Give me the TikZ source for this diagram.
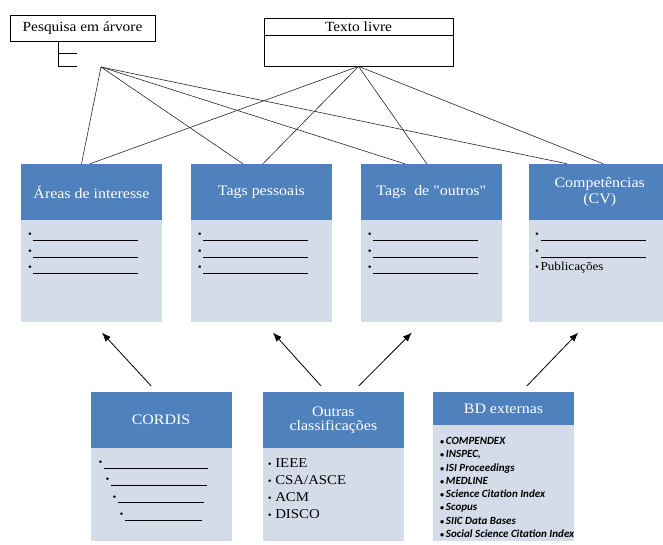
\documentclass[tikz,border=0pt]{standalone}
\usepackage{fontspec}
\setmainfont[FakeStretch=1.1]{Liberation Serif}
\newfontfamily\qfont[FakeStretch=1.1]{Liberation Serif}
\newfontfamily\calfont{Carlito}
\usetikzlibrary{positioning,arrows.meta,calc}

\definecolor{hdblue}{HTML}{4F81BD}
\definecolor{bdblue}{HTML}{D5DCE9}

\newcommand{\hdfont}{\fontsize{14.5}{14}\selectfont}
\newcommand{\ttlfont}{\fontsize{14}{16}\selectfont}
\newcommand{\lstfont}{\fontsize{12}{16.7}\selectfont}
\newcommand{\srcfont}{\fontsize{13.5}{16.8}\selectfont}
\newcommand{\dbfont}{\calfont\bfseries\itshape\fontsize{11}{13.3}\selectfont}
\newcommand{\bl}[1][105pt]{\rule[-3pt]{#1}{0.7pt}}
\newcommand{\bul}{\strut{\fontsize{10}{10}\selectfont\textbullet}\hspace{1.5pt}}
\newcommand{\dbul}{\strut{\fontsize{8}{8}\selectfont\textbullet}\hspace{2pt}}

\begin{document}
\begin{tikzpicture}[
  x=1pt,y=-1pt,
  node distance=28.5pt,
  hd/.style={fill=hdblue,text=white,minimum width=141pt,minimum height=56pt,align=center,inner sep=0pt,font=\hdfont},
  bd/.style={fill=bdblue,minimum width=141pt,inner sep=0pt},
  lst/.style={anchor=north west,align=left,inner sep=0pt},
  ttl/.style={draw,line width=0.8pt,inner sep=0pt,font=\ttlfont},
  ln/.style={draw=black!85,line width=0.6pt},
  ar/.style={-{Latex[length=9pt,width=7pt]},line width=0.8pt}
]
\useasboundingbox (0,0) rectangle (663,545);
\clip (0,0) rectangle (663,545);

% search boxes on top
\node[ttl,minimum width=145pt,minimum height=26pt] (tree) at (82.5,28) {Pesquisa em árvore};
\coordinate (treept) at (101,67);
\node[ttl,minimum width=189pt,minimum height=48pt] (texto) at (358.5,42) {};
\node[inner sep=0pt,minimum height=17pt,font=\ttlfont,anchor=north] (textot) at (texto.north) {Texto livre};
\draw[line width=0.8pt] (texto.west |- textot.south) -- (texto.east |- textot.south);
\draw[line width=0.8pt] ([xshift=49pt]tree.south west) -- ++(0,25) -- ++(18,0);
\draw[line width=0.8pt] ([xshift=49pt]tree.south west) ++(0,12) -- ++(18,0);

% profile boxes
\node[hd] (areas) at (91.5,192) {Áreas de interesse};
\node[hd,right=of areas] (tagsp) {Tags pessoais};
\node[hd,right=of tagsp] (tagso) {Tags\ \ de {\qfont"}outros{\qfont"}};
\node[hd,right=27pt of tagso] (comp) {Competências\\[2pt](CV)};
\node[bd,minimum height=102pt,below=0pt of areas] (areasb) {};
\node[bd,minimum height=102pt,below=0pt of tagsp] (tagspb) {};
\node[bd,minimum height=102pt,below=0pt of tagso] (tagsob) {};
\node[bd,minimum height=102pt,below=0pt of comp] (compb) {};
\node[lst,font=\lstfont] (areasl) at ([shift={(7pt,-5.5pt)}]areasb.north west) {\bul\bl\\\bul\bl\\\bul\bl};
\node[lst,font=\lstfont] (tagspl) at ([shift={(7pt,-5.5pt)}]tagspb.north west) {\bul\bl\\\bul\bl\\\bul\bl};
\node[lst,font=\lstfont] (tagsol) at ([shift={(7pt,-5.5pt)}]tagsob.north west) {\bul\bl\\\bul\bl\\\bul\bl};
\node[lst,font=\lstfont] (compl) at ([shift={(6pt,-5.5pt)}]compb.north west) {\bul\bl\\\bul\bl\\\bul Publicações};

% sources
\node[hd] (cordis) at (161,420) {CORDIS};
\node[hd,right=31pt of cordis] (outras) {Outras\\classificações};
\node[hd,minimum height=33pt] (bd) at (503.5,408.5) {BD externas};
\node[bd,minimum height=93pt,below=0pt of cordis] (cordisb) {};
\node[bd,minimum height=93pt,below=0pt of outras] (outrasb) {};
\node[bd,minimum height=116pt,below=0pt of bd] (bdb) {};
\node[lst,font=\fontsize{12}{17.4}\selectfont] (cordisl) at ([shift={(8pt,-4.8pt)}]cordisb.north west)
  {\bul\bl[104pt]\\\hspace*{7pt}\bul\bl[96pt]\\\hspace*{14pt}\bul\bl[86pt]\\\hspace*{21pt}\bul\bl[77pt]};
\node[lst,font=\srcfont] (outrasl) at ([shift={(5pt,-7.5pt)}]outrasb.north west)
  {\bul\hspace{2pt}IEEE\\\bul\hspace{2pt}CSA/ASCE\\\bul\hspace{2pt}ACM\\\bul\hspace{2pt}DISCO};
\node[lst,font=\dbfont] (bdl) at ([shift={(7pt,-9.7pt)}]bdb.north west)
  {\dbul COMPENDEX\\\dbul INSPEC,\\\dbul ISI Proceedings\\\dbul MEDLINE\\\dbul Science Citation Index\\\dbul Scopus\\\dbul SIIC Data Bases\\\dbul Social Science Citation Index};

% search links
\draw[ln] (treept) -- ([xshift=-10pt]areas.north);
\draw[ln] (treept) -- ([xshift=-18.5pt]tagsp.north);
\draw[ln] (treept) -- ([xshift=-26.5pt]tagso.north);
\draw[ln] (treept) -- ([xshift=-32.5pt]comp.north);
\draw[ln] (texto.south) -- ([xshift=-1.5pt]areas.north);
\draw[ln] (texto.south) -- ([xshift=1.5pt]tagsp.north);
\draw[ln] (texto.south) -- ([xshift=-4.5pt]tagso.north);
\draw[ln] (texto.south) -- ([xshift=3.5pt]comp.north);

% source arrows
\draw[ar] ([shift={(-10pt,6pt)}]cordis.north) -- ([shift={(10.5pt,-10pt)}]areasb.south);
\draw[ar] ([shift={(-12.5pt,6pt)}]outras.north) -- ([shift={(11.5pt,-10pt)}]tagspb.south);
\draw[ar] ([shift={(25.5pt,6pt)}]outras.north) -- ([shift={(-19.5pt,-10pt)}]tagsob.south);
\draw[ar] ([shift={(23.5pt,6pt)}]bd.north) -- ([shift={(-21.5pt,-10pt)}]compb.south);
\end{tikzpicture}
\end{document}
